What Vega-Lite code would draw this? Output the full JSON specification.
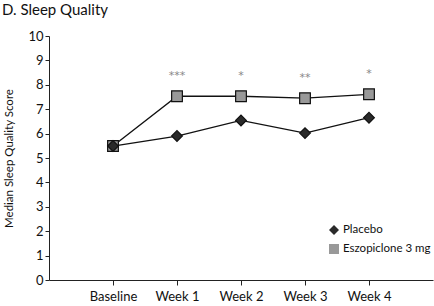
{
  "$schema": "https://vega.github.io/schema/vega-lite/v6.json",
  "autosize": "none",
  "width": 384,
  "height": 244,
  "padding": {"left": 49, "top": 36, "right": 1, "bottom": 26},
  "background": "white",
  "config": {"font": "Lato", "view": {"stroke": null}},
  "title": {"text": "D. Sleep Quality", "anchor": "start", "frame": "group", "dx": -47, "offset": 12, "fontSize": 15, "fontWeight": "normal", "color": "#111"},
  "data": {"values": [
    {"week": "Baseline", "group": "Placebo", "score": 5.49, "sig": ""},
    {"week": "Week 1", "group": "Placebo", "score": 5.9, "sig": ""},
    {"week": "Week 2", "group": "Placebo", "score": 6.54, "sig": ""},
    {"week": "Week 3", "group": "Placebo", "score": 6.02, "sig": ""},
    {"week": "Week 4", "group": "Placebo", "score": 6.65, "sig": ""},
    {"week": "Baseline", "group": "Eszopiclone 3 mg", "score": 5.49, "sig": ""},
    {"week": "Week 1", "group": "Eszopiclone 3 mg", "score": 7.53, "sig": "***"},
    {"week": "Week 2", "group": "Eszopiclone 3 mg", "score": 7.53, "sig": "*"},
    {"week": "Week 3", "group": "Eszopiclone 3 mg", "score": 7.45, "sig": "**"},
    {"week": "Week 4", "group": "Eszopiclone 3 mg", "score": 7.61, "sig": "*"}
  ]},
  "encoding": {
    "x": {"field": "week", "type": "nominal", "sort": null,
      "scale": {"type": "point", "padding": 1},
      "axis": {"title": null, "labelAngle": 0, "labelFontSize": 13, "labelColor": "#111", "domainColor": "#222", "tickColor": "#222", "tickSize": 5, "labelPadding": 5, "grid": false}},
    "y": {"field": "score", "type": "quantitative",
      "scale": {"domain": [0, 10], "nice": false},
      "axis": {"title": "Median Sleep Quality Score", "titleFontSize": 11.5, "titleFontWeight": "normal", "titleColor": "#111", "titlePadding": 13, "values": [0,1,2,3,4,5,6,7,8,9,10], "labelFontSize": 13, "labelColor": "#111", "domainColor": "#222", "tickColor": "#222", "tickSize": 4, "labelPadding": 2, "grid": false}}
  },
  "layer": [
    {"mark": {"type": "line", "color": "#111", "strokeWidth": 1.3},
     "encoding": {"detail": {"field": "group"}}},
    {"mark": {"type": "point", "filled": true, "opacity": 1, "stroke": "#111", "strokeWidth": 1.2, "size": 115},
     "encoding": {
       "shape": {"field": "group", "type": "nominal", "scale": {"domain": ["Placebo", "Eszopiclone 3 mg"], "range": ["diamond", "square"]},
         "legend": {"title": null, "orient": "none", "legendX": 279, "legendY": 188, "labelFontSize": 11.5, "labelColor": "#111", "symbolSize": 100, "rowPadding": 3, "labelOffset": 3, "symbolStrokeColor": "#111", "symbolStrokeWidth": 1.2}},
       "fill": {"field": "group", "type": "nominal", "scale": {"domain": ["Placebo", "Eszopiclone 3 mg"], "range": ["#2a2a2a", "#999999"]},
         "legend": {"title": null, "orient": "none", "legendX": 279, "legendY": 188, "labelFontSize": 11.5, "labelColor": "#111", "symbolSize": 100, "rowPadding": 3, "labelOffset": 3, "symbolStrokeColor": "#111", "symbolStrokeWidth": 1.2}},
       "order": {"field": "group", "sort": "ascending"}
     }},
    {"mark": {"type": "text", "color": "#888", "fontSize": 11, "font": "DejaVu Sans", "dy": -20},
     "encoding": {"text": {"field": "sig"}}}
  ]
}
